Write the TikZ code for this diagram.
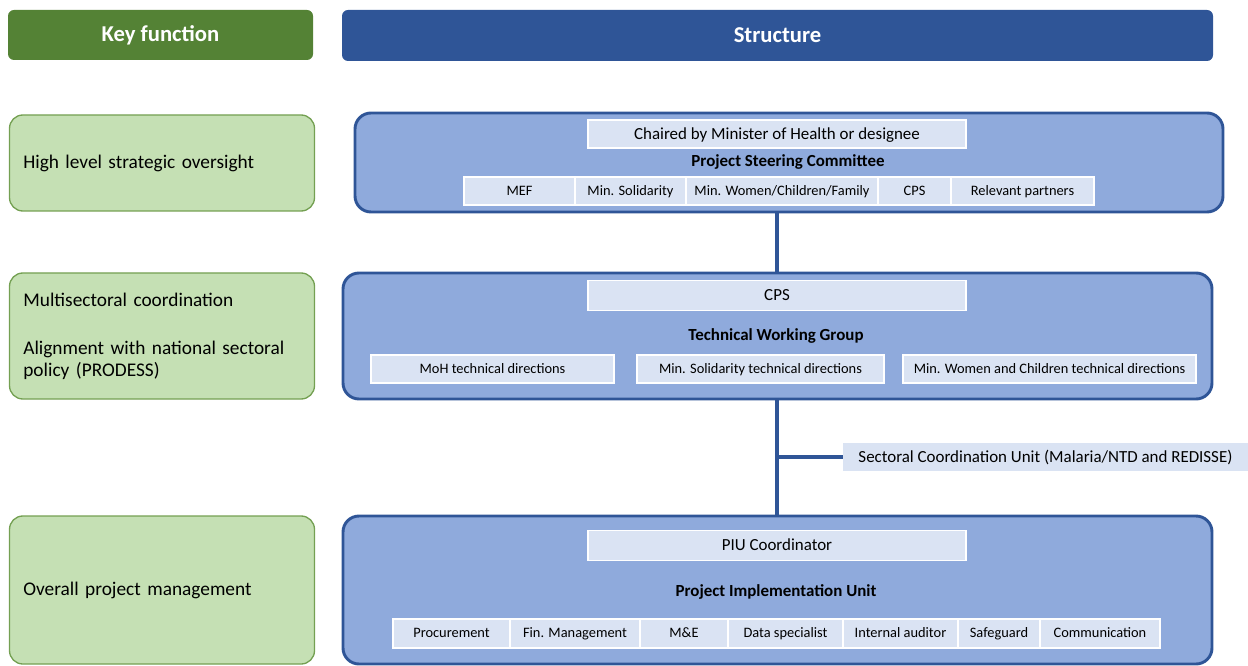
\documentclass[tikz,border=0pt]{standalone}
\usepackage{fontspec}
\setmainfont{Carlito}
\usetikzlibrary{positioning}

\definecolor{keygreen}{HTML}{548235}
\definecolor{structblue}{HTML}{2F5597}
\definecolor{funcgreen}{HTML}{C5E0B4}
\definecolor{funcedge}{HTML}{74A052}
\definecolor{levelblue}{HTML}{8FAADC}
\definecolor{cellblue}{HTML}{DAE3F3}

\begin{document}
\begin{tikzpicture}[x=0.75pt, y=-0.75pt,
  header/.style={rounded corners=4.5pt, inner sep=0pt, text=white,
    font=\fontsize{17}{19}\selectfont\bfseries},
  func/.style={rounded corners=10pt, draw=funcedge, line width=1pt, fill=funcgreen,
    inner sep=0pt, text width=208pt, align=left, font=\fontsize{14.5}{16.5}\selectfont},
  level/.style={rounded corners=12pt, draw=structblue, line width=2.2pt, fill=levelblue,
    inner sep=0pt},
  cell/.style={draw=white, line width=1.4pt, fill=cellblue, inner sep=0pt, outer sep=0pt,
    minimum height=21pt, text height=6.5pt, text depth=0pt,
    font=\fontsize{10.8}{12}\selectfont},
  bigcell/.style={cell, minimum width=283.5pt, minimum height=22.5pt,
    text height=7.6pt, font=\fontsize{12.7}{14}\selectfont},
  title/.style={font=\fontsize{12.7}{14}\selectfont\bfseries},
  link/.style={draw=structblue, line width=2.6pt}]
  \useasboundingbox (0,0) rectangle (1248,666);

  % column headers
  \node[header, fill=keygreen, minimum width=228.75pt, minimum height=37.5pt]
    (keyhead) at (160.5,35) {Key function};
  \node[header, fill=structblue, minimum width=653.25pt, minimum height=38.25pt]
    (structhead) at (777.5,35.5) {Structure};

  % key functions
  \node[func, minimum width=228.75pt, minimum height=72pt] (func1) at (162,163)
    {High level strategic oversight};
  \node[func, minimum width=228.75pt, minimum height=94.5pt] (func2) at (162,336)
    {Multisectoral coordination\\[19.5pt]Alignment with national sectoral policy (PRODESS)};
  \node[func, minimum width=228.75pt, minimum height=111pt] (func3) at (162,590)
    {Overall project management};

  % connectors between levels
  \coordinate (top) at (777,212);
  \coordinate (mid) at (777,399);
  \coordinate (low) at (777,516);
  \node[cell, minimum width=303.75pt, draw=none, text height=7.6pt,
    font=\fontsize{12.7}{14}\selectfont]
    (sectoral) at (1045.5,457) {Sectoral Coordination Unit (Malaria/NTD and REDISSE)};
  \draw[link] (top) -- (top |- 0,273);
  \draw[link] (mid) -- (low);
  \draw[link] (mid |- sectoral.west) -- (sectoral.west);

  % level 1: steering committee
  \node[level, minimum width=651pt, minimum height=74.25pt] (psc) at (789,162.5) {};
  \node[bigcell, minimum height=21pt] (chair) at (777,134) {Chaired by Minister of Health or designee};
  \node[title] (psctitle) at (788,162) {Project Steering Committee};
  \node[cell, minimum width=83.25pt] (mef) at (519.5,191) {MEF};
  \node[cell, minimum width=83.25pt, right=0pt of mef] (solid1) {Min. Solidarity};
  \node[cell, minimum width=144pt, right=0pt of solid1] (women1) {Min. Women/Children/Family};
  \node[cell, minimum width=54.75pt, right=0pt of women1] (cps1) {CPS};
  \node[cell, minimum width=107.25pt, right=0pt of cps1] (partners) {Relevant partners};

  % level 2: technical working group
  \node[level, minimum width=651.75pt, minimum height=94.5pt] (twg) at (777.5,336) {};
  \node[bigcell] (cps2) at (777,295.5) {CPS};
  \node[title] (twgtitle) at (776,336) {Technical Working Group};
  \node[cell, minimum width=182.25pt] (moh) at (492.5,369) {MoH technical directions};
  \node[cell, minimum width=185.25pt] (solid2) at (760.5,369) {Min. Solidarity technical directions};
  \node[cell, minimum width=219.75pt] (women2) at (1049.5,369) {Min. Women and Children technical directions};

  % level 3: implementation unit
  \node[level, minimum width=651.75pt, minimum height=111pt] (piu) at (777.5,590) {};
  \node[bigcell] (piucoord) at (777,545.5) {PIU Coordinator};
  \node[title] (piutitle) at (776,592) {Project Implementation Unit};
  \node[cell, minimum width=87.75pt, minimum height=21.75pt] (procure) at (451.5,633.5) {Procurement};
  \node[cell, minimum width=97.5pt, minimum height=21.75pt, right=0pt of procure] (finance) {Fin. Management};
  \node[cell, minimum width=66pt, minimum height=21.75pt, right=0pt of finance] (mande) {M\&E};
  \node[cell, minimum width=86.25pt, minimum height=21.75pt, right=0pt of mande] (data) {Data specialist};
  \node[cell, minimum width=86.25pt, minimum height=21.75pt, right=0pt of data] (auditor) {Internal auditor};
  \node[cell, minimum width=61.5pt, minimum height=21.75pt, right=0pt of auditor] (safeguard) {Safeguard};
  \node[cell, minimum width=90pt, minimum height=21.75pt, right=0pt of safeguard] (comm) {Communication};
\end{tikzpicture}
\end{document}
